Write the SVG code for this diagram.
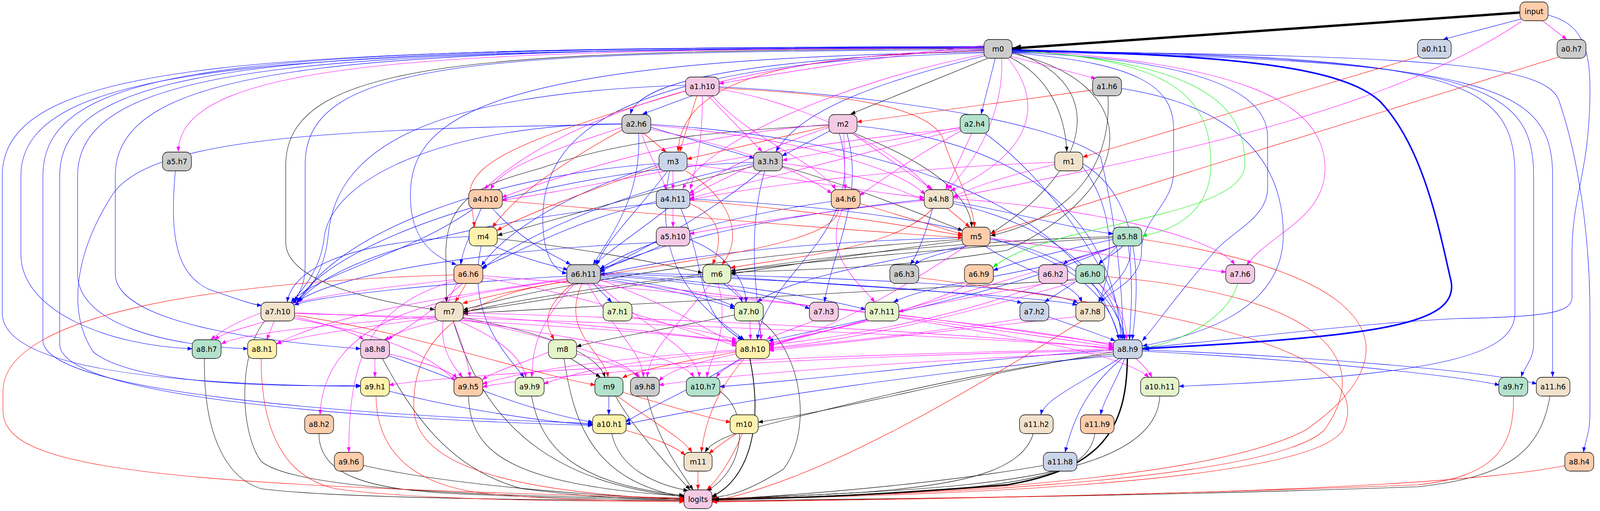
<svg xmlns="http://www.w3.org/2000/svg" width="4276" height="1307" viewBox="0 0 4276 1307">
<style>
.bg{fill:#fff}
.e{fill:none;stroke-width:1.1}
.k{stroke:#000;marker-end:url(#ak)}
.b{stroke:#0000ff;marker-end:url(#ab)}
.r{stroke:#ff0000;marker-end:url(#ar)}
.m{stroke:#ff00ff;marker-end:url(#am)}
.g{stroke:#00ee00;marker-end:url(#ag)}
.node rect{stroke:#000;stroke-width:1.3}
.node text{font-family:"DejaVu Sans","Liberation Sans",sans-serif;font-size:18.67px;text-anchor:middle;fill:#000}
.gy{fill:#cccccc}.pe{fill:#fdcdac}.bl{fill:#cbd5e8}.pk{fill:#f4cae4}.mi{fill:#b3e2cd}.tn{fill:#f1e2cc}.ye{fill:#fff2ae}.lg{fill:#e6f5c9}
</style>
<defs>
<marker id="ak" markerUnits="userSpaceOnUse" markerWidth="13" markerHeight="10" viewBox="0 0 13 10" refX="13" refY="5" orient="auto"><path d="M0,0 L13,5 L0,10 z" fill="#000"/></marker>
<marker id="ab" markerUnits="userSpaceOnUse" markerWidth="13" markerHeight="10" viewBox="0 0 13 10" refX="13" refY="5" orient="auto"><path d="M0,0 L13,5 L0,10 z" fill="#0000ff"/></marker>
<marker id="ar" markerUnits="userSpaceOnUse" markerWidth="13" markerHeight="10" viewBox="0 0 13 10" refX="13" refY="5" orient="auto"><path d="M0,0 L13,5 L0,10 z" fill="#ff0000"/></marker>
<marker id="am" markerUnits="userSpaceOnUse" markerWidth="13" markerHeight="10" viewBox="0 0 13 10" refX="13" refY="5" orient="auto"><path d="M0,0 L13,5 L0,10 z" fill="#ff00ff"/></marker>
<marker id="ag" markerUnits="userSpaceOnUse" markerWidth="13" markerHeight="10" viewBox="0 0 13 10" refX="13" refY="5" orient="auto"><path d="M0,0 L13,5 L0,10 z" fill="#00ee00"/></marker>
<marker id="akT" markerUnits="userSpaceOnUse" markerWidth="24" markerHeight="18" viewBox="0 0 24 18" refX="24" refY="9" orient="auto"><path d="M0,0 L24,9 L0,18 z" fill="#000"/></marker>
<marker id="akM" markerUnits="userSpaceOnUse" markerWidth="17" markerHeight="13" viewBox="0 0 17 13" refX="17" refY="6.5" orient="auto"><path d="M0,0 L17,6.5 L0,13 z" fill="#000"/></marker>
<marker id="abM" markerUnits="userSpaceOnUse" markerWidth="17" markerHeight="13" viewBox="0 0 17 13" refX="17" refY="6.5" orient="auto"><path d="M0,0 L17,6.5 L0,13 z" fill="#0000ff"/></marker>
</defs>
<rect class="bg" x="0" y="0" width="4276" height="1307"/>
<g id="edges" transform="matrix(0.955 0 0 1 0 0)">
<g class="e k">
<path d="M2648,149 L2280,292"/>
<path d="M2705,145 C2820,200 2855,300 2860,388"/>
<path d="M2710,132 C2960,200 2950,420 2655,598"/>
<path d="M2710,136 C3070,210 3060,480 2700,640 C2400,690 2100,690 1959,697"/>
<path d="M2640,124 C1300,130 770,150 766,420 L766,620 C766,720 1000,770 1166,792"/>
<path d="M2970,245 C2980,400 2900,550 2655,603"/>
<path d="M2290,341 C2500,420 2600,500 2605,581"/>
<path d="M2224,320 C1800,340 1600,380 1450,430 C1300,470 1195,500 1195,650 L1197,773"/>
<path d="M2022,425 C1700,500 1500,560 1333,602"/>
<path d="M2096,425 C2300,480 2500,560 2581,590"/>
<path d="M1331,610 C1600,640 1800,680 1884,698"/>
<path d="M2581,615 C2300,650 2100,680 1958,701"/>
<path d="M2581,612 C2000,650 1500,720 1241,793"/>
<path d="M2985,605 C2500,620 2200,660 1958,693"/>
<path d="M2985,608 C2400,640 1600,720 1241,799"/>
<path d="M1885,706 C1600,740 1400,780 1241,797"/>
<path d="M2885,716 C2400,740 1700,780 1241,802"/>
<path d="M1970,805 C1800,840 1600,870 1545,887"/>
<path d="M2040,821 C2150,900 2180,1100 2100,1200 C2000,1260 1950,1270 1908,1272"/>
<path d="M1240,812 C1450,850 1600,900 1622,965"/>
<path d="M1215,821 C1300,1100 1500,1240 1834,1270"/>
<path d="M710,821 C640,900 640,1100 700,1180 C800,1260 1400,1270 1834,1275"/>
<path d="M548,917 C545,1100 600,1220 700,1250 C900,1275 1500,1280 1834,1280"/>
<path d="M1025,917 C1100,1050 1200,1200 1400,1250 C1600,1275 1750,1278 1834,1276"/>
<path d="M1530,917 L1610,965"/>
<path d="M1512,917 C1540,1100 1600,1230 1834,1272"/>
<path d="M2986,905 C2600,950 2200,1050 2000,1100 C1930,1120 1900,1140 1890,1157"/>
<path d="M2986,900 C2600,960 2300,1040 2032,1080"/>
<path d="M1256,1013 C1260,1150 1350,1240 1834,1269"/>
<path d="M1425,1013 C1450,1150 1550,1240 1834,1267"/>
<path d="M1650,1013 C1700,1100 1800,1200 1850,1253"/>
<path d="M1735,1013 C1760,1120 1820,1200 1858,1253"/>
<path d="M1928,1000 C2010,1050 2000,1200 1895,1255"/>
<path d="M3109,1013 C3100,1200 2700,1240 2300,1260 C2100,1270 2000,1274 1909,1275"/>
<path d="M4155,1013 C4130,1150 4050,1220 3800,1245 C3000,1272 2300,1276 1909,1281"/>
<path d="M855,1109 C855,1220 1000,1250 1200,1262 C1500,1275 1700,1278 1834,1279"/>
<path d="M1640,1109 C1660,1200 1760,1240 1845,1255"/>
<path d="M2770,1109 C2740,1200 2600,1240 2300,1260 C2100,1270 2000,1274 1909,1276"/>
<path d="M2935,1109 C2920,1200 2800,1240 2400,1260 C2150,1272 2000,1276 1909,1278"/>
<path d="M972,1190 C1200,1240 1600,1270 1834,1275"/>
<path d="M2800,1190 C2500,1240 2100,1270 1909,1277"/>
</g>
<g class="e b">
<path d="M4080,48 L3868,101"/>
<path d="M4148,38 C4240,60 4265,120 4262,250 C4258,450 4214,500 4214,650 L4214,760 C4214,800 4150,810 3900,815 C3600,830 3300,870 3062,890"/>
<path d="M2668,149 L2630,292"/>
<path d="M2640,128 C2150,150 1720,185 1690,292"/>
<path d="M2642,142 C2400,200 2150,270 2080,388"/>
<path d="M2710,130 C3900,140 4061,200 4061,450 L4061,800 C4061,900 3900,960 3160,988"/>
<path d="M2710,131 C3950,145 4111,210 4111,450 L4111,880 C4111,920 4085,940 4078,964"/>
<path d="M2710,133 C4000,150 4162,220 4162,450 L4162,964"/>
<path d="M2710,132 C3900,140 4150,170 4180,260 C4230,400 4262,600 4262,800 L4262,1060 C4262,1110 4248,1130 4245,1157"/>
<path d="M2710,135 C3050,160 3146,220 3146,330 L3146,440 C3146,520 3060,560 3060,640 C3060,720 2980,740 2950,773"/>
<path d="M2710,134 C3200,150 3398,230 3398,350 L3398,480 C3398,560 3300,590 3250,650 C3150,760 3100,830 3062,872"/>
<path d="M2640,133 C1300,150 1100,300 1100,500 C1100,620 1170,660 1224,677"/>
<path d="M2640,135 C1700,160 1455,320 1455,560 C1455,660 1490,695 1520,699"/>
<path d="M2640,127 C1300,133 818,150 818,420 L818,680 C818,730 800,750 790,772"/>
<path d="M2640,123 C800,128 56,150 56,450 L56,650 C56,800 300,885 516,892"/>
<path d="M2640,122 C900,126 208,150 208,450 L208,700 C208,830 450,885 665,892"/>
<path d="M2640,121 C1000,125 309,150 309,450 L309,700 C309,840 800,880 967,892"/>
<path d="M2640,120 C700,123 6,150 6,450 L6,800 C6,950 500,985 967,988"/>
<path d="M2640,119 C700,122 115,150 115,450 L115,870 C115,1000 900,1060 1589,1083"/>
<path d="M2640,119 C800,123 160,150 160,450 L160,880 C160,1010 900,1070 1589,1088"/>
<path d="M1855,245 L1722,292"/>
<path d="M1926,222 C2300,240 2800,300 2950,400 C3000,600 3010,780 3010,869"/>
<path d="M1840,218 C1100,240 900,400 880,600 C870,700 820,760 782,775"/>
<path d="M3005,226 C3300,270 3440,400 3440,600 C3440,800 3200,860 3062,885"/>
<path d="M1743,325 L2022,405"/>
<path d="M1712,341 C1720,500 1640,600 1590,677"/>
<path d="M1669,316 C1200,320 900,450 870,600 C860,700 800,750 780,774"/>
<path d="M1669,318 C900,330 400,350 300,500 C200,650 180,800 250,900 C350,980 700,990 967,986"/>
<path d="M1743,318 C2300,350 2900,500 3000,869"/>
<path d="M2226,334 L2096,399"/>
<path d="M2270,341 C2320,500 2230,650 2210,773"/>
<path d="M2296,322 C2800,370 2990,600 3005,869"/>
<path d="M2250,341 C2330,600 2050,700 2030,869"/>
<path d="M2640,341 C2800,450 3000,700 3015,869"/>
<path d="M470,437 C455,600 470,700 560,740 C650,770 680,780 702,781"/>
<path d="M1790,437 C1700,550 1620,620 1600,678"/>
<path d="M1795,437 C1740,700 1900,800 1995,869"/>
<path d="M1768,418 C1300,450 900,600 800,773"/>
<path d="M1768,420 C1500,500 1350,600 1290,680"/>
<path d="M2040,437 C1900,550 1700,650 1608,693"/>
<path d="M2050,437 C2000,600 2030,750 2040,869"/>
<path d="M2022,415 C1500,430 900,600 795,774"/>
<path d="M2022,418 C1700,480 1400,600 1290,690"/>
<path d="M2901,418 C3050,500 3060,700 3035,869"/>
<path d="M2901,425 C3000,550 2980,700 2945,773"/>
<path d="M1290,533 C1260,600 1240,640 1235,677"/>
<path d="M1270,533 C1100,650 850,700 780,773"/>
<path d="M1320,533 C1400,620 1500,660 1530,677"/>
<path d="M1790,533 C1700,600 1620,650 1595,677"/>
<path d="M1761,515 C1550,560 1400,640 1292,684"/>
<path d="M1825,533 C1900,700 1860,800 1990,869"/>
<path d="M1761,520 C1300,560 900,650 800,773"/>
<path d="M1847,509 C2500,540 2950,620 3000,869"/>
<path d="M2230,515 C1900,560 1700,630 1608,688"/>
<path d="M2553,515 C2750,550 2900,590 2985,598"/>
<path d="M2553,520 C2800,570 2990,700 3010,869"/>
<path d="M2479,510 C2000,560 1700,640 1608,697"/>
<path d="M2500,533 C2480,600 2460,650 2440,677"/>
<path d="M1322,629 C1400,660 1480,680 1523,690"/>
<path d="M1259,605 C900,620 780,700 770,773"/>
<path d="M1290,629 C1250,800 1350,900 1405,965"/>
<path d="M1770,629 C1700,660 1640,680 1606,688"/>
<path d="M1847,612 C1950,650 2000,720 2000,773"/>
<path d="M1761,620 C1300,640 900,700 795,773"/>
<path d="M2595,629 C2520,650 2470,660 2452,677"/>
<path d="M2581,608 C2100,620 1800,660 1608,703"/>
<path d="M2653,612 C2900,650 3000,780 3015,869"/>
<path d="M2590,629 C2300,680 2100,720 2030,773"/>
<path d="M2640,629 C2750,700 2880,720 2900,773"/>
<path d="M2985,612 C2850,640 2720,670 2662,692"/>
<path d="M2995,629 C2920,650 2870,660 2850,677"/>
<path d="M3010,629 C2990,650 2960,660 2945,677"/>
<path d="M2995,629 C2930,700 2850,740 2800,773"/>
<path d="M3030,629 C3040,700 2960,740 2945,773"/>
<path d="M2990,629 C2800,700 2500,720 2395,773"/>
<path d="M3025,629 C3040,750 3030,800 3028,869"/>
<path d="M2990,629 C2700,750 2300,820 2060,872"/>
<path d="M1590,725 L1640,773"/>
<path d="M1607,708 C1800,730 1920,760 1970,785"/>
<path d="M1607,712 C1800,740 1920,770 1970,790"/>
<path d="M1607,705 C1900,720 2100,760 2171,790"/>
<path d="M1607,702 C1900,715 2200,760 2321,792"/>
<path d="M1607,700 C2000,710 2600,740 2740,775"/>
<path d="M1607,698 C2200,705 2800,730 2890,775"/>
<path d="M1521,706 C1100,730 850,760 788,780"/>
<path d="M1940,725 C1970,750 1985,760 1990,773"/>
<path d="M1957,708 C2400,740 2800,760 2888,780"/>
<path d="M2810,810 C2900,840 2960,860 2990,872"/>
<path d="M1042,910 C1200,960 1400,1050 1590,1080"/>
<path d="M1985,917 C1850,1000 1720,1050 1677,1080"/>
<path d="M2986,910 C2500,950 2000,1020 1677,1085"/>
<path d="M2986,895 C2600,920 2200,970 1929,989"/>
<path d="M3000,917 C2900,980 2800,1020 2790,1061"/>
<path d="M3015,917 C2990,980 2960,1020 2950,1061"/>
<path d="M3008,917 C2900,1000 2870,1100 2855,1157"/>
<path d="M3060,898 C3500,920 3900,960 4020,985"/>
<path d="M3060,895 C3500,910 4000,950 4120,982"/>
<path d="M1042,1000 C1200,1040 1450,1080 1590,1086"/>
<path d="M1632,1013 L1632,1061"/>
</g>
<g class="e r">
<path d="M3805,144 L2902,402"/>
<path d="M4178,146 L2655,598"/>
<path d="M2640,130 C2200,140 1825,180 1818,388"/>
<path d="M1868,245 L1822,388"/>
<path d="M1840,232 C1500,330 1250,400 1260,500 C1265,540 1270,560 1272,581"/>
<path d="M1926,225 C2250,240 2500,270 2530,360 C2560,450 2610,520 2612,581"/>
<path d="M2931,230 L2297,312"/>
<path d="M1725,341 L1786,389"/>
<path d="M1672,330 C1500,420 1380,500 1320,582"/>
<path d="M2224,322 L1841,407"/>
<path d="M1768,425 C1600,480 1400,550 1332,590"/>
<path d="M1838,437 C1950,500 2000,600 1935,677"/>
<path d="M1345,513 C1900,560 2300,590 2581,608"/>
<path d="M1847,512 C2200,540 2450,580 2581,603"/>
<path d="M1847,520 C1950,560 1930,630 1910,677"/>
<path d="M2304,520 L2581,600"/>
<path d="M2248,533 C2250,650 1600,680 1240,776"/>
<path d="M2540,533 L2600,581"/>
<path d="M2500,533 C2400,640 2100,660 1958,685"/>
<path d="M3059,612 C3700,700 3800,900 3500,1100 C3200,1250 2200,1270 1908,1280"/>
<path d="M1250,725 L1220,773"/>
<path d="M1219,703 C600,720 10,800 8,1000 L8,1050 C8,1200 400,1240 1834,1274"/>
<path d="M1535,725 C1440,800 1470,840 1485,869"/>
<path d="M1560,725 C1500,850 1620,900 1630,965"/>
<path d="M1521,720 C1200,760 1100,900 1110,1050 C1120,1200 1400,1260 1834,1278"/>
<path d="M2461,710 C3200,800 3700,900 3600,1100 C3500,1250 2300,1270 1908,1278"/>
<path d="M2959,707 C3500,750 3700,900 3550,1100 C3400,1240 2300,1272 1908,1275"/>
<path d="M788,806 C1100,850 1400,950 1596,985"/>
<path d="M2900,821 C2600,1000 2200,1230 1908,1282"/>
<path d="M700,917 C700,1100 760,1220 900,1250 C1100,1278 1500,1282 1834,1283"/>
<path d="M1995,917 C1920,1000 1890,1080 1880,1157"/>
<path d="M1975,900 C1800,930 1700,950 1668,967"/>
<path d="M1008,1013 C1010,1150 1100,1240 1300,1262 C1500,1280 1700,1282 1834,1281"/>
<path d="M1668,1003 C1800,1040 1900,1070 1959,1080"/>
<path d="M1655,1013 C1750,1080 1830,1120 1855,1157"/>
<path d="M4057,1013 C4060,1150 4000,1220 3800,1240 C3000,1270 2300,1278 1909,1283"/>
<path d="M1675,1100 C1750,1120 1810,1140 1837,1165"/>
<path d="M1975,1109 C1940,1130 1920,1145 1900,1160"/>
<path d="M1990,1109 C1960,1180 1920,1230 1895,1253"/>
<path d="M1871,1205 L1871,1253"/>
<path d="M4200,1190 C3900,1250 3000,1270 1909,1284"/>
</g>
<g class="e m">
<path d="M4135,53 L4200,101"/>
<path d="M4078,55 C3700,300 3000,420 2555,505"/>
<path d="M2640,116 C2400,140 2100,185 1927,214"/>
<path d="M2705,143 L2938,201"/>
<path d="M2685,149 C2690,250 2650,380 2540,484"/>
<path d="M2700,147 C2790,250 2790,380 2548,488"/>
<path d="M2640,122 C1200,128 482,150 478,388"/>
<path d="M2710,127 C3300,160 3550,250 3552,430 C3552,560 3400,600 3342,678"/>
<path d="M2640,126 C2000,140 1500,300 1298,484"/>
<path d="M2642,138 C2300,200 1900,350 1830,484"/>
<path d="M1898,245 L2043,388"/>
<path d="M1883,245 C1883,350 1870,420 1850,484"/>
<path d="M1910,245 C2000,350 2200,420 2240,485"/>
<path d="M1925,228 C2150,260 2400,380 2495,485"/>
<path d="M1720,341 C1740,400 1770,440 1786,485"/>
<path d="M1669,325 C1500,380 1350,420 1315,485"/>
<path d="M1743,320 C2100,350 2400,420 2480,498"/>
<path d="M1743,330 C2000,380 2150,440 2230,495"/>
<path d="M2224,318 C1800,350 1500,450 1345,505"/>
<path d="M2224,325 C2050,380 1900,450 1848,496"/>
<path d="M2262,341 L2266,485"/>
<path d="M2285,341 L2500,485"/>
<path d="M2576,325 L2097,410"/>
<path d="M2576,330 C2200,420 1950,480 1848,508"/>
<path d="M2576,335 C2450,400 2350,470 2304,500"/>
<path d="M2605,341 L2535,485"/>
<path d="M2576,328 C2000,380 1600,480 1345,512"/>
<path d="M1804,437 L1804,485"/>
<path d="M1840,420 C2100,450 2300,490 2478,505"/>
<path d="M2022,420 L1848,501"/>
<path d="M2096,418 C2300,440 2400,480 2478,513"/>
<path d="M2829,420 C2700,450 2600,480 2554,505"/>
<path d="M2829,415 C2400,430 2000,480 1848,512"/>
<path d="M1804,533 L1804,581"/>
<path d="M2260,533 C2200,650 2300,720 2345,773"/>
<path d="M2479,513 C2200,540 1950,580 1848,598"/>
<path d="M2553,508 C2900,530 3250,600 3310,677"/>
<path d="M2653,609 C2900,640 3150,680 3287,696"/>
<path d="M2590,629 C2400,750 2200,860 2061,880"/>
<path d="M2995,629 C2700,720 2400,800 2061,885"/>
<path d="M1219,715 C1000,740 700,760 565,869"/>
<path d="M1240,725 C1150,800 1100,840 1030,869"/>
<path d="M1225,725 C1150,850 1200,920 1240,965"/>
<path d="M1219,718 C1000,780 935,900 935,1157"/>
<path d="M1293,705 C2000,760 2800,840 2985,885"/>
<path d="M1293,710 C1600,760 1850,850 1975,885"/>
<path d="M1521,712 C1200,760 900,800 740,880"/>
<path d="M1521,715 C1200,760 870,800 858,1061"/>
<path d="M1607,715 C1800,780 1900,850 1975,880"/>
<path d="M1607,718 C2200,780 2800,860 2985,888"/>
<path d="M1575,725 C1650,850 1720,900 1725,965"/>
<path d="M1540,725 C1420,850 1430,920 1425,965"/>
<path d="M1600,725 C1750,850 1870,900 1875,965"/>
<path d="M1950,725 C2040,800 2040,840 2040,869"/>
<path d="M1905,725 C1800,850 1740,900 1735,965"/>
<path d="M1925,725 C1960,850 1900,920 1895,965"/>
<path d="M2600,725 C2450,800 2200,850 2061,878"/>
<path d="M2795,725 C2600,800 2300,860 2061,882"/>
<path d="M2945,725 C3010,780 3020,830 3020,869"/>
<path d="M2885,712 C2700,740 2500,780 2408,797"/>
<path d="M2885,720 C2600,800 2300,870 2061,890"/>
<path d="M715,821 C650,840 600,850 575,869"/>
<path d="M735,821 L715,869"/>
<path d="M788,810 C880,830 950,850 975,869"/>
<path d="M788,800 C1300,820 1800,850 1975,876"/>
<path d="M788,802 C1600,820 2600,860 2985,890"/>
<path d="M788,815 C1000,850 1150,900 1220,975"/>
<path d="M1168,808 C900,830 650,850 593,880"/>
<path d="M1168,812 C950,840 800,860 741,880"/>
<path d="M1175,821 C1100,840 1060,850 1040,870"/>
<path d="M1240,806 C1600,830 1850,860 1975,873"/>
<path d="M1240,800 C2000,820 2700,860 2985,893"/>
<path d="M1215,821 C1240,880 1255,930 1260,965"/>
<path d="M1240,815 C1500,870 1680,920 1710,965"/>
<path d="M1240,818 C1500,860 1820,900 1860,965"/>
<path d="M1230,821 C1350,870 1400,920 1410,965"/>
<path d="M1693,810 C1850,840 1950,860 1975,870"/>
<path d="M2010,821 L2012,869"/>
<path d="M2180,821 C2100,850 2070,860 2055,869"/>
<path d="M2407,805 C2700,840 2900,870 2985,880"/>
<path d="M2330,821 C2200,850 2100,870 2061,887"/>
<path d="M2407,812 C2700,860 3000,900 3080,965"/>
<path d="M2740,815 C2500,850 2200,880 2061,893"/>
<path d="M2885,810 C2500,850 2200,880 2061,897"/>
<path d="M1005,917 L1005,965"/>
<path d="M1042,905 C1150,930 1210,950 1225,968"/>
<path d="M1472,900 C1400,930 1320,950 1293,972"/>
<path d="M1544,905 C1650,930 1700,950 1715,965"/>
<path d="M1975,905 C1850,930 1790,950 1766,975"/>
<path d="M1975,898 C1700,920 1550,950 1457,982"/>
<path d="M1975,895 C1600,920 1400,950 1293,982"/>
<path d="M1990,917 C1950,940 1930,950 1920,965"/>
<path d="M3045,917 C3070,940 3080,950 3088,965"/>
<path d="M2986,893 C2000,910 1200,960 1042,985"/>
<path d="M2986,896 C2000,915 1400,965 1293,990"/>
<path d="M2986,900 C2300,930 1900,965 1766,985"/>
</g>
<g class="e g">
<path d="M2710,129 C3150,150 3246,250 3246,420 C3246,540 3150,590 3061,603"/>
<path d="M2710,128 C3250,160 3337,280 3337,420 C3337,560 2800,570 2662,684"/>
<path d="M3318,725 C3290,820 3150,880 3061,891"/>
</g>
<path d="M4076,32 L2713,124" fill="none" stroke="#000" stroke-width="6" marker-end="url(#akT)"/>
<path d="M2712,128 C3300,140 3600,170 3700,260 C3820,380 3860,600 3890,720 C3910,830 3700,860 3063,892" fill="none" stroke="#0000ff" stroke-width="4" marker-end="url(#abM)"/>
<path d="M3022,917 C3020,1100 2950,1200 2700,1240 C2300,1270 2100,1275 1910,1277" fill="none" stroke="#000" stroke-width="3.5" marker-end="url(#akM)"/>
<path d="M2010,917 C2050,1100 2000,1230 1908,1270" fill="none" stroke="#000" stroke-width="2" marker-end="url(#ak)"/>
</g>
<g id="n-input" class="node" transform="translate(-185,0)"><rect class="pe" x="4076" y="5" width="72" height="48" rx="14"/><text x="4112" y="35.5">input</text></g>
<g id="n-m0" class="node" transform="translate(-120,0)"><rect class="gy" x="2639" y="101" width="72" height="48" rx="14"/><text x="2675" y="131.5">m0</text></g>
<g id="n-a0.h11" class="node" transform="translate(-173,0)"><rect class="bl" x="3802" y="101" width="86" height="48" rx="14"/><text x="3845" y="131.5">a0.h11</text></g>
<g id="n-a0.h7" class="node" transform="translate(-190,0)"><rect class="gy" x="4176" y="101" width="74" height="48" rx="14"/><text x="4213" y="131.5">a0.h7</text></g>
<g id="n-a1.h10" class="node" transform="translate(-85,0)"><rect class="pk" x="1840" y="197" width="86" height="48" rx="14"/><text x="1883" y="227.5">a1.h10</text></g>
<g id="n-a1.h6" class="node" transform="translate(-134,0)"><rect class="gy" x="2931" y="197" width="74" height="48" rx="14"/><text x="2968" y="227.5">a1.h6</text></g>
<g id="n-a2.h6" class="node" transform="translate(-77,0)"><rect class="gy" x="1669" y="293" width="74" height="48" rx="14"/><text x="1706" y="323.5">a2.h6</text></g>
<g id="n-m2" class="node" transform="translate(-102,0)"><rect class="pk" x="2224" y="293" width="72" height="48" rx="14"/><text x="2260" y="323.5">m2</text></g>
<g id="n-a2.h4" class="node" transform="translate(-118,0)"><rect class="mi" x="2576" y="293" width="74" height="48" rx="14"/><text x="2613" y="323.5">a2.h4</text></g>
<g id="n-a5.h7" class="node" transform="translate(-21,0)"><rect class="gy" x="437" y="389" width="74" height="48" rx="14"/><text x="474" y="419.5">a5.h7</text></g>
<g id="n-m3" class="node" transform="translate(-81,0)"><rect class="bl" x="1768" y="389" width="72" height="48" rx="14"/><text x="1804" y="419.5">m3</text></g>
<g id="n-a3.h3" class="node" transform="translate(-93,0)"><rect class="gy" x="2022" y="389" width="74" height="48" rx="14"/><text x="2059" y="419.5">a3.h3</text></g>
<g id="n-m1" class="node" transform="translate(-129,0)"><rect class="tn" x="2829" y="389" width="72" height="48" rx="14"/><text x="2865" y="419.5">m1</text></g>
<g id="n-a4.h10" class="node" transform="translate(-59,0)"><rect class="pe" x="1259" y="485" width="86" height="48" rx="14"/><text x="1302" y="515.5">a4.h10</text></g>
<g id="n-a4.h11" class="node" transform="translate(-81,0)"><rect class="bl" x="1761" y="485" width="86" height="48" rx="14"/><text x="1804" y="515.5">a4.h11</text></g>
<g id="n-a4.h6" class="node" transform="translate(-102,0)"><rect class="pe" x="2230" y="485" width="74" height="48" rx="14"/><text x="2267" y="515.5">a4.h6</text></g>
<g id="n-a4.h8" class="node" transform="translate(-113,0)"><rect class="tn" x="2479" y="485" width="74" height="48" rx="14"/><text x="2516" y="515.5">a4.h8</text></g>
<g id="n-m4" class="node" transform="translate(-58,0)"><rect class="ye" x="1259" y="581" width="72" height="48" rx="14"/><text x="1295" y="611.5">m4</text></g>
<g id="n-a5.h10" class="node" transform="translate(-81,0)"><rect class="pk" x="1761" y="581" width="86" height="48" rx="14"/><text x="1804" y="611.5">a5.h10</text></g>
<g id="n-m5" class="node" transform="translate(-118,0)"><rect class="pe" x="2581" y="581" width="72" height="48" rx="14"/><text x="2617" y="611.5">m5</text></g>
<g id="n-a5.h8" class="node" transform="translate(-136,0)"><rect class="mi" x="2985" y="581" width="74" height="48" rx="14"/><text x="3022" y="611.5">a5.h8</text></g>
<g id="n-a6.h6" class="node" transform="translate(-57,0)"><rect class="pe" x="1219" y="677" width="74" height="48" rx="14"/><text x="1256" y="707.5">a6.h6</text></g>
<g id="n-a6.h11" class="node" transform="translate(-70,0)"><rect class="gy" x="1521" y="677" width="86" height="48" rx="14"/><text x="1564" y="707.5">a6.h11</text></g>
<g id="n-m6" class="node" transform="translate(-86,0)"><rect class="lg" x="1885" y="677" width="72" height="48" rx="14"/><text x="1921" y="707.5">m6</text></g>
<g id="n-a6.h3" class="node" transform="translate(-109,0)"><rect class="gy" x="2387" y="677" width="74" height="48" rx="14"/><text x="2424" y="707.5">a6.h3</text></g>
<g id="n-a6.h9" class="node" transform="translate(-118,0)"><rect class="pe" x="2587" y="677" width="74" height="48" rx="14"/><text x="2624" y="707.5">a6.h9</text></g>
<g id="n-a6.h2" class="node" transform="translate(-127,0)"><rect class="pk" x="2786" y="677" width="74" height="48" rx="14"/><text x="2823" y="707.5">a6.h2</text></g>
<g id="n-a6.h0" class="node" transform="translate(-131,0)"><rect class="mi" x="2885" y="677" width="74" height="48" rx="14"/><text x="2922" y="707.5">a6.h0</text></g>
<g id="n-a7.h6" class="node" transform="translate(-150,0)"><rect class="pk" x="3288" y="677" width="74" height="48" rx="14"/><text x="3325" y="707.5">a7.h6</text></g>
<g id="n-a7.h10" class="node" transform="translate(-34,0)"><rect class="tn" x="702" y="773" width="86" height="48" rx="14"/><text x="745" y="803.5">a7.h10</text></g>
<g id="n-m7" class="node" transform="translate(-54,0)"><rect class="tn" x="1168" y="773" width="72" height="48" rx="14"/><text x="1204" y="803.5">m7</text></g>
<g id="n-a7.h1" class="node" transform="translate(-75,0)"><rect class="lg" x="1619" y="773" width="74" height="48" rx="14"/><text x="1656" y="803.5">a7.h1</text></g>
<g id="n-a7.h0" class="node" transform="translate(-90,0)"><rect class="lg" x="1970" y="773" width="74" height="48" rx="14"/><text x="2007" y="803.5">a7.h0</text></g>
<g id="n-a7.h3" class="node" transform="translate(-99,0)"><rect class="pk" x="2171" y="773" width="74" height="48" rx="14"/><text x="2208" y="803.5">a7.h3</text></g>
<g id="n-a7.h11" class="node" transform="translate(-106,0)"><rect class="lg" x="2321" y="773" width="86" height="48" rx="14"/><text x="2364" y="803.5">a7.h11</text></g>
<g id="n-a7.h2" class="node" transform="translate(-125,0)"><rect class="bl" x="2736" y="773" width="74" height="48" rx="14"/><text x="2773" y="803.5">a7.h2</text></g>
<g id="n-a7.h8" class="node" transform="translate(-131,0)"><rect class="tn" x="2885" y="773" width="74" height="48" rx="14"/><text x="2922" y="803.5">a7.h8</text></g>
<g id="n-a8.h7" class="node" transform="translate(-25,0)"><rect class="mi" x="517" y="869" width="74" height="48" rx="14"/><text x="554" y="899.5">a8.h7</text></g>
<g id="n-a8.h1" class="node" transform="translate(-32,0)"><rect class="ye" x="666" y="869" width="74" height="48" rx="14"/><text x="703" y="899.5">a8.h1</text></g>
<g id="n-a8.h8" class="node" transform="translate(-45,0)"><rect class="pk" x="968" y="869" width="74" height="48" rx="14"/><text x="1005" y="899.5">a8.h8</text></g>
<g id="n-m8" class="node" transform="translate(-68,0)"><rect class="lg" x="1472" y="869" width="72" height="48" rx="14"/><text x="1508" y="899.5">m8</text></g>
<g id="n-a8.h10" class="node" transform="translate(-91,0)"><rect class="ye" x="1975" y="869" width="86" height="48" rx="14"/><text x="2018" y="899.5">a8.h10</text></g>
<g id="n-a8.h9" class="node" transform="translate(-136,0)"><rect class="bl" x="2986" y="869" width="74" height="48" rx="14"/><text x="3023" y="899.5">a8.h9</text></g>
<g id="n-a9.h1" class="node" transform="translate(-45,0)"><rect class="ye" x="968" y="965" width="74" height="48" rx="14"/><text x="1005" y="995.5">a9.h1</text></g>
<g id="n-a9.h5" class="node" transform="translate(-57,0)"><rect class="pe" x="1219" y="965" width="74" height="48" rx="14"/><text x="1256" y="995.5">a9.h5</text></g>
<g id="n-a9.h9" class="node" transform="translate(-64,0)"><rect class="lg" x="1383" y="965" width="74" height="48" rx="14"/><text x="1420" y="995.5">a9.h9</text></g>
<g id="n-m9" class="node" transform="translate(-73,0)"><rect class="mi" x="1596" y="965" width="72" height="48" rx="14"/><text x="1632" y="995.5">m9</text></g>
<g id="n-a9.h8" class="node" transform="translate(-78,0)"><rect class="gy" x="1692" y="965" width="74" height="48" rx="14"/><text x="1729" y="995.5">a9.h8</text></g>
<g id="n-a10.h7" class="node" transform="translate(-85,0)"><rect class="mi" x="1842" y="965" width="86" height="48" rx="14"/><text x="1885" y="995.5">a10.h7</text></g>
<g id="n-a10.h11" class="node" transform="translate(-140,0)"><rect class="lg" x="3060" y="965" width="98" height="48" rx="14"/><text x="3109" y="995.5">a10.h11</text></g>
<g id="n-a9.h7" class="node" transform="translate(-183,0)"><rect class="mi" x="4020" y="965" width="74" height="48" rx="14"/><text x="4057" y="995.5">a9.h7</text></g>
<g id="n-a11.h6" class="node" transform="translate(-187,0)"><rect class="tn" x="4120" y="965" width="86" height="48" rx="14"/><text x="4163" y="995.5">a11.h6</text></g>
<g id="n-a8.h2" class="node" transform="translate(-38,0)"><rect class="pe" x="818" y="1061" width="74" height="48" rx="14"/><text x="855" y="1091.5">a8.h2</text></g>
<g id="n-a10.h1" class="node" transform="translate(-73,0)"><rect class="ye" x="1590" y="1061" width="86" height="48" rx="14"/><text x="1633" y="1091.5">a10.h1</text></g>
<g id="n-m10" class="node" transform="translate(-90,0)"><rect class="ye" x="1959" y="1061" width="72" height="48" rx="14"/><text x="1995" y="1091.5">m10</text></g>
<g id="n-a11.h2" class="node" transform="translate(-125,0)"><rect class="tn" x="2735" y="1061" width="86" height="48" rx="14"/><text x="2778" y="1091.5">a11.h2</text></g>
<g id="n-a11.h9" class="node" transform="translate(-132,0)"><rect class="pe" x="2898" y="1061" width="86" height="48" rx="14"/><text x="2941" y="1091.5">a11.h9</text></g>
<g id="n-a9.h6" class="node" transform="translate(-42,0)"><rect class="pe" x="898" y="1157" width="74" height="48" rx="14"/><text x="935" y="1187.5">a9.h6</text></g>
<g id="n-m11" class="node" transform="translate(-84,0)"><rect class="tn" x="1835" y="1157" width="72" height="48" rx="14"/><text x="1871" y="1187.5">m11</text></g>
<g id="n-a11.h8" class="node" transform="translate(-128,0)"><rect class="bl" x="2799" y="1157" width="86" height="48" rx="14"/><text x="2842" y="1187.5">a11.h8</text></g>
<g id="n-a8.h4" class="node" transform="translate(-191,0)"><rect class="pe" x="4197" y="1157" width="74" height="48" rx="14"/><text x="4234" y="1187.5">a8.h4</text></g>
<g id="n-logits" class="node" transform="translate(-84,0)"><rect class="pk" x="1835" y="1253" width="72" height="48" rx="14"/><text x="1871" y="1283.5">logits</text></g>
</svg>
